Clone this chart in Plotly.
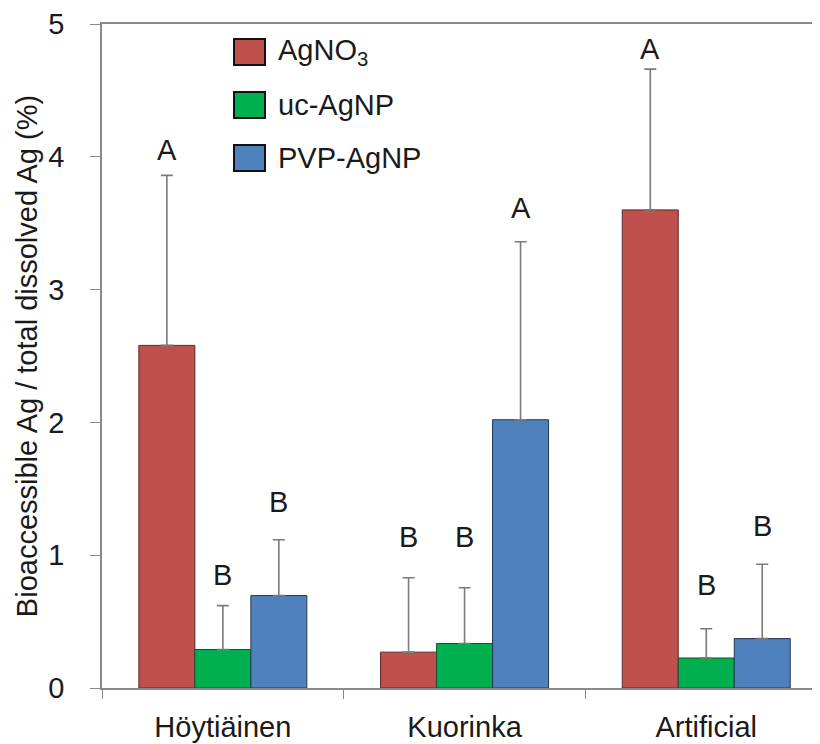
import plotly.graph_objects as go

# ---- data ----
categories = ["Höytiäinen", "Kuorinka", "Artificial"]
series_names = ["AgNO<sub>3</sub>", "uc-AgNP", "PVP-AgNP"]
agno3 = [2.58, 0.27, 3.60]
uc_agnp = [0.29, 0.335, 0.226]
pvp_agnp = [0.696, 2.02, 0.372]
agno3_err = [1.28, 0.56, 1.06]
uc_agnp_err = [0.33, 0.42, 0.22]
pvp_agnp_err = [0.42, 1.34, 0.56]
agno3_letters = ["A", "B", "A"]
uc_agnp_letters = ["B", "B", "B"]
pvp_agnp_letters = ["B", "A", "B"]
y_ticks = [0, 1, 2, 3, 4, 5]

# ---- style ----
colors = ["#C0504D", "#00B050", "#4F81BD"]
outline = ["#5a2a28", "#1f4a2a", "#24364f"]
FONT = "Liberation Sans, Arial, sans-serif"
FS = 29
# page body has an 8px margin, so the figure is drawn 8px in from the corner
W, H = 812, 736
L, R, T, B = 94, 0, 16, 56
plot_w, plot_h = W - L - R, H - T - B
cat_px = 241.7
bargap = 0.305
bar_w = (1 - bargap) / 3
# letter label heights (placement only)
letter_y = [[4.05, 1.135, 4.81], [0.85, 1.135, 0.774], [1.40, 3.615, 1.218]]

values = [agno3, uc_agnp, pvp_agnp]
errors = [agno3_err, uc_agnp_err, pvp_agnp_err]
letters = [agno3_letters, uc_agnp_letters, pvp_agnp_letters]

fig = go.Figure()
for j in range(3):
    fig.add_trace(go.Bar(
        x=categories, y=values[j], name=series_names[j],
        marker=dict(color=colors[j], line=dict(color=outline[j], width=1)),
        error_y=dict(type="data", array=errors[j], symmetric=False,
                     arrayminus=[0] * 3, color="#7a7a7a", thickness=1.6, width=6),
        showlegend=False,
    ))

annotations = []
for j in range(3):
    for i in range(3):
        annotations.append(dict(
            x=i + (j - 1) * bar_w, y=letter_y[j][i], xref="x", yref="y",
            text=letters[j][i], showarrow=False,
            font=dict(family=FONT, size=FS, color="#1a1a1a"),
        ))

# legend drawn by hand (reference uses large swatches); coordinates in page px
OFF = 8
def px_x(px):
    return (px - OFF - L) / plot_w

def px_y(py):
    return (H - B - (py - OFF)) / plot_h

shapes = []
legend_rows = [52, 105, 158]
for j in range(3):
    cy = legend_rows[j]
    shapes.append(dict(
        type="rect", xref="paper", yref="paper",
        x0=px_x(234), x1=px_x(265), y0=px_y(cy + 13), y1=px_y(cy - 13),
        fillcolor=colors[j], line=dict(color="#111111", width=2),
    ))
    annotations.append(dict(
        x=px_x(276), y=px_y(cy), xref="paper", yref="paper",
        xanchor="left", yanchor="middle", text=series_names[j], showarrow=False,
        font=dict(family=FONT, size=FS, color="#1a1a1a"),
    ))

axis_col = "#8a8a8a"
fig.update_layout(
    width=W, height=H,
    margin=dict(l=L, r=R, t=T, b=B, pad=0),
    paper_bgcolor="white", plot_bgcolor="white",
    barmode="group", bargap=bargap, bargroupgap=0,
    font=dict(family=FONT, size=FS, color="#1a1a1a"),
    annotations=annotations, shapes=shapes,
    xaxis=dict(
        type="category", range=[-0.5, -0.5 + plot_w / cat_px],
        showline=True, linecolor=axis_col, linewidth=1.6, mirror=True,
        ticks="outside", tickson="boundaries", ticklen=9, tickcolor=axis_col,
        tickwidth=1.4, showgrid=False, ticklabelstandoff=12,
        tickfont=dict(family=FONT, size=FS, color="#1a1a1a"),
    ),
    yaxis=dict(
        range=[0, 5], tickvals=y_ticks,
        showline=True, linecolor=axis_col, linewidth=1.6,
        ticks="outside", ticklen=10, tickcolor=axis_col, tickwidth=1.4,
        showgrid=False, zeroline=False, ticklabelstandoff=20,
        tickfont=dict(family=FONT, size=FS, color="#1a1a1a"),
        title=dict(text="Bioaccessible Ag / total dissolved Ag (%)",
                   font=dict(family=FONT, size=FS, color="#1a1a1a"), standoff=2),
    ),
)

fig.write_html("out.html")
